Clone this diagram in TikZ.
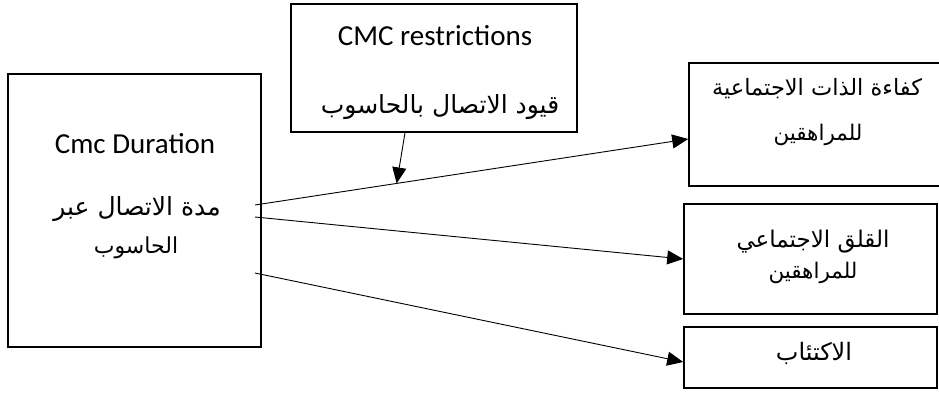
\documentclass[tikz,border=0pt]{standalone}
\usepackage{fontspec}
\setmainfont{Carlito}
\newfontfamily\arabicfont[Script=Arabic]{DejaVu Sans}
\TeXXeTstate=1
\usetikzlibrary{arrows.meta}
\newcommand{\artext}[1]{\beginR #1\endR}
\tikzset{
  box/.style={draw, line width=1.6pt, inner sep=0pt},
  en/.style={anchor=base, font=\fontsize{29}{33}\selectfont},
  ar/.style={anchor=base, font=\arabicfont\fontsize{#1}{28}\selectfont},
  ar/.default=23,
  link/.style={line width=0.9pt, -{Triangle[length=16pt,width=14pt]}}
}
\begin{document}
\begin{tikzpicture}[x=1pt,y=-1pt]
        \useasboundingbox (0,0) rectangle (939,400);
        \clip (0,0) rectangle (939,400);
        % boxes
        \node[box, minimum width=253pt, minimum height=273pt] (dur) at (134.5,210.5) {};
        \node[box, minimum width=286pt, minimum height=128pt] (res) at (434,68) {};
        \node[box, minimum width=280pt, minimum height=123pt] (eff) at (829,124.5) {};
        \node[box, minimum width=253pt, minimum height=110pt] (anx) at (810.5,259) {};
        \node[box, minimum width=253pt, minimum height=61pt] (dep) at (810.5,357.5) {};
        % texts
        \node[en] (durEn) at (135,153) {Cmc Duration};
        \node[ar=25] (durAr1) at (137,215) {\artext{مدة الاتصال عبر}};
        \node[ar=22] (durAr2) at (136,253) {\artext{الحاسوب}};
        \node[en] (resEn) at (435,45) {CMC restrictions};
        \node[ar=25] (resAr) at (440,113) {\artext{قيود الاتصال بالحاسوب}};
        \node[ar=22.5] (effAr1) at (817,95) {\artext{كفاءة الذات الاجتماعية}};
        \node[ar=21.5] (effAr2) at (818,140) {\artext{للمراهقين}};
        \node[ar] (anxAr1) at (813,247) {\artext{القلق الاجتماعي}};
        \node[ar=21.5] (anxAr2) at (813,278) {\artext{للمراهقين}};
        \node[ar=24] (depAr) at (814,360) {\artext{الاكتئاب}};
        % connectors
        \coordinate (s1) at (255,205);
        \coordinate (s2) at (255,217);
        \coordinate (s3) at (255,273);
        \draw[link] (s1) -- ([yshift=-14.5pt]eff.west) coordinate[pos=0.327] (hit);
        \draw[link] (s2) -- (anx.west);
        \draw[link] (s3) -- ([yshift=-4.5pt]dep.west);
        \draw[link] ([xshift=-29pt]res.south) -- (hit);
\end{tikzpicture}
\end{document}
